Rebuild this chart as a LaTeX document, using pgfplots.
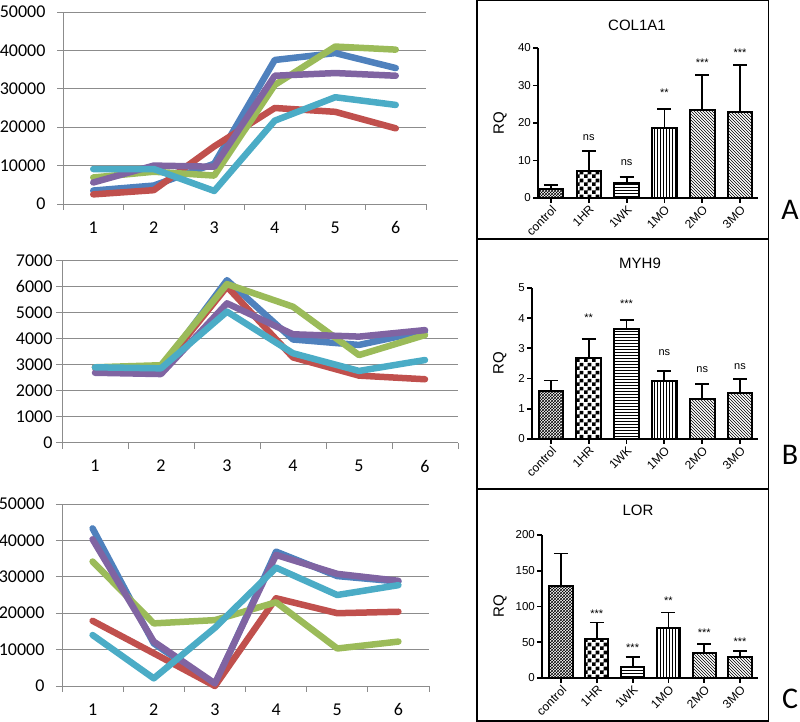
\documentclass[border=0pt]{standalone}
\usepackage{pgfplots}
\pgfplotsset{compat=1.18}
\usepackage{fontspec}
\setmainfont{Liberation Sans}
\newfontfamily\calibri{Carlito}
\usetikzlibrary{patterns}

\pgfdeclarepatternformonly{bigchecker}{\pgfqpoint{0pt}{0pt}}{\pgfqpoint{8pt}{8pt}}{\pgfqpoint{8pt}{8pt}}{%
  \pgfpathrectangle{\pgfqpoint{0pt}{0pt}}{\pgfqpoint{4pt}{4pt}}%
  \pgfpathrectangle{\pgfqpoint{4pt}{4pt}}{\pgfqpoint{4pt}{4pt}}%
  \pgfusepath{fill}}

\definecolor{xblue}{HTML}{4F81BD}
\definecolor{xred}{HTML}{C0504D}
\definecolor{xgreen}{HTML}{9BBB59}
\definecolor{xpurple}{HTML}{8064A2}
\definecolor{xcyan}{HTML}{4BACC6}
\definecolor{xgrid}{HTML}{8C8C8C}

\pgfplotsset{
  linechart/.style={
    scale only axis, anchor=south west, clip=false,
    xmin=0.5, xmax=6.5, ymin=0,
    axis x line*=bottom, axis y line*=left,
    axis line style={draw=xgrid, line width=0.8pt},
    ymajorgrids, grid style={xgrid, line width=0.8pt},
    xtick={0.5,1.5,...,6.5}, xticklabels={1,2,3,4,5,6,{}},
    tick align=outside, major tick length=6pt,
    tick style={xgrid, line width=0.8pt},
    ticklabel style={font=\calibri\fontsize{18}{20}\selectfont},
    /pgf/number format/assume math mode=true,
    /pgf/number format/1000 sep={},
    scaled y ticks=false,
    every axis plot/.append style={line width=6.5pt, line join=round, line cap=round, mark=none},
  },
  barchart/.style={
    scale only axis, anchor=south west, clip=false,
    ymin=0,
    axis x line*=bottom, axis y line*=left,
    axis line style={line width=2pt, black},
    xtick={1,...,6}, xticklabels={control,1HR,1WK,1MO,2MO,3MO},
    tick align=outside, major tick length=5pt,
    tick style={line width=1.8pt, black},
    yticklabel style={font=\fontsize{11.5}{13}\selectfont, inner sep=2pt},
    /pgf/number format/assume math mode=true,
    xticklabel style={font=\fontsize{12}{13}\selectfont, rotate=45, anchor=north east, inner sep=1pt},
    ylabel=RQ, ylabel style={font=\fontsize{15}{17}\selectfont, anchor=center},
  },
  rqbar/.style={
    ybar, bar shift=0pt, bar width=0.65, draw=black, line width=2pt,
    pattern color=black,
    error bars/y dir=plus, error bars/y explicit,
    error bars/error bar style={line width=1.8pt, black},
    error bars/error mark options={rotate=90, line width=1.8pt, mark size=7pt, black},
  },
  sig/.style={
    draw=none, mark=none, nodes near coords, point meta=explicit symbolic,
    every node near coord/.append style={font=\fontsize{11}{12}\selectfont, inner sep=0pt, black},
  },
}

\begin{document}
\begin{tikzpicture}[x=1pt, y=1pt]
\path[use as bounding box] (0pt,0pt) rectangle (800pt,722pt);

% ---------- left: line charts ----------
\begin{axis}[linechart, at={(63pt,518pt)}, width=363pt, height=192pt,
  ymax=50000, ytick={0,10000,...,50000},
  xticklabel style={xshift=30.25pt, yshift=-8pt}, yticklabel style={xshift=-8pt}]
\addplot[xblue]   coordinates {(1,3500)(2,4800)(3,10500)(4,37500)(5,39300)(6,35400)};
\addplot[xred]    coordinates {(1,2500)(2,3600)(3,15000)(4,25000)(5,24000)(6,19700)};
\addplot[xgreen]  coordinates {(1,6900)(2,8400)(3,7400)(4,31000)(5,41000)(6,40200)};
\addplot[xpurple] coordinates {(1,5600)(2,10000)(3,9700)(4,33400)(5,34100)(6,33400)};
\addplot[xcyan]   coordinates {(1,9100)(2,9100)(3,3400)(4,21700)(5,27800)(6,25800)};
\end{axis}

\begin{axis}[linechart, at={(62pt,279.3pt)}, width=396pt, height=182pt,
  ymax=7000, ytick={0,1000,...,7000},
  xticklabel style={xshift=33pt, yshift=-8pt}, yticklabel style={xshift=0pt}]
\addplot[xblue]   coordinates {(1,2900)(2,2850)(3,6250)(4,3970)(5,3760)(6,4300)};
\addplot[xred]    coordinates {(1,2900)(2,2850)(3,6000)(4,3280)(5,2580)(6,2440)};
\addplot[xgreen]  coordinates {(1,2900)(2,2980)(3,6100)(4,5230)(5,3370)(6,4140)};
\addplot[xpurple] coordinates {(1,2690)(2,2640)(3,5360)(4,4170)(5,4080)(6,4330)};
\addplot[xcyan]   coordinates {(1,2900)(2,2860)(3,5040)(4,3440)(5,2760)(6,3180)};
\end{axis}

\begin{axis}[linechart, at={(62pt,36pt)}, width=367pt, height=182pt,
  ymax=50000, ytick={0,10000,...,50000},
  xticklabel style={xshift=30.6pt, yshift=-8pt}, yticklabel style={xshift=-8pt}]
\addplot[xblue]   coordinates {(1,43300)(2,11700)(3,300)(4,36900)(5,30200)(6,28700)};
\addplot[xred]    coordinates {(1,17900)(2,9000)(3,0)(4,24100)(5,20000)(6,20400)};
\addplot[xgreen]  coordinates {(1,34200)(2,17200)(3,18100)(4,23000)(5,10300)(6,12200)};
\addplot[xpurple] coordinates {(1,40300)(2,12200)(3,700)(4,36000)(5,30800)(6,28900)};
\addplot[xcyan]   coordinates {(1,14000)(2,2100)(3,16000)(4,32500)(5,25000)(6,27700)};
\end{axis}

% ---------- right: boxes ----------
\draw[line width=1.5pt] (477pt,721.25pt) rectangle (768.5pt,483pt);
\draw[line width=1.5pt] (477pt,483pt) rectangle (768.5pt,233pt);
\draw[line width=1.5pt] (477pt,233pt) rectangle (768.5pt,0.75pt);

\node[font=\fontsize{15}{17}\selectfont] at (637pt,697pt) {COL1A1};
\node[font=\fontsize{15}{17}\selectfont] at (640pt,459pt) {MYH9};
\node[font=\fontsize{15}{17}\selectfont] at (638pt,212pt) {LOR};

\node[font=\calibri\fontsize{30}{32}\selectfont] at (790pt,512pt) {A};
\node[font=\calibri\fontsize{30}{32}\selectfont] at (790pt,267pt) {B};
\node[font=\calibri\fontsize{30}{32}\selectfont] at (790pt,23pt) {C};

% ---------- COL1A1 ----------
\begin{axis}[barchart, at={(538pt,524pt)}, width=220pt, height=150pt,
  xmin=0.657, xmax=6.475, ymax=40, ytick={0,10,...,40},
  ylabel style={at={(axis description cs:-0.173,0.5)}}]
\addplot[rqbar, pattern=crosshatch]        coordinates {(1,2.4) +- (0,1.1)};
\addplot[rqbar, pattern=bigchecker]        coordinates {(2,7.3) +- (0,5.3)};
\addplot[rqbar, pattern=horizontal lines]  coordinates {(3,4.1) +- (0,1.5)};
\addplot[rqbar, pattern=vertical lines]    coordinates {(4,18.6) +- (0,5.1)};
\addplot[rqbar, pattern=north west lines]  coordinates {(5,23.4) +- (0,9.3)};
\addplot[rqbar, pattern=north west lines]  coordinates {(6,22.8) +- (0,12.6)};
\addplot[sig] coordinates {(2,15.3) [ns] (3,8.6) [ns] (4,27.0) [**] (5,35.1) [***] (6,37.8) [***]};
\end{axis}

% ---------- MYH9 ----------
\begin{axis}[barchart, at={(532pt,283pt)}, width=226pt, height=151pt,
  xmin=0.5, xmax=6.475, ymax=5, ytick={0,1,...,5},
  ylabel style={at={(axis description cs:-0.142,0.5)}}]
\addplot[rqbar, pattern=crosshatch]        coordinates {(1,1.60) +- (0,0.34)};
\addplot[rqbar, pattern=bigchecker]        coordinates {(2,2.68) +- (0,0.63)};
\addplot[rqbar, pattern=horizontal lines]  coordinates {(3,3.64) +- (0,0.31)};
\addplot[rqbar, pattern=vertical lines]    coordinates {(4,1.91) +- (0,0.35)};
\addplot[rqbar, pattern=north west lines]  coordinates {(5,1.34) +- (0,0.47)};
\addplot[rqbar, pattern=north west lines]  coordinates {(6,1.51) +- (0,0.48)};
\addplot[sig] coordinates {(2,3.87) [**] (3,4.34) [***] (4,2.76) [ns] (5,2.20) [ns] (6,2.28) [ns]};
\end{axis}

% ---------- LOR ----------
\begin{axis}[barchart, at={(542pt,44pt)}, width=216pt, height=143pt,
  xmin=0.47, xmax=6.5, ymax=200, ytick={0,50,...,200},
  ylabel style={at={(axis description cs:-0.194,0.5)}}]
\addplot[rqbar, pattern=crosshatch]        coordinates {(1,128) +- (0,46)};
\addplot[rqbar, pattern=bigchecker]        coordinates {(2,54.4) +- (0,23.3)};
\addplot[rqbar, pattern=horizontal lines]  coordinates {(3,14.9) +- (0,14.9)};
\addplot[rqbar, pattern=vertical lines]    coordinates {(4,69.8) +- (0,21.8)};
\addplot[rqbar, pattern=north west lines]  coordinates {(5,34.9) +- (0,12.5)};
\addplot[rqbar, pattern=north west lines]  coordinates {(6,28.8) +- (0,9.3)};
\addplot[sig] coordinates {(2,83.9) [***] (3,37.3) [***] (4,102) [**] (5,58.3) [***] (6,45.7) [***]};
\end{axis}
\end{tikzpicture}
\end{document}
